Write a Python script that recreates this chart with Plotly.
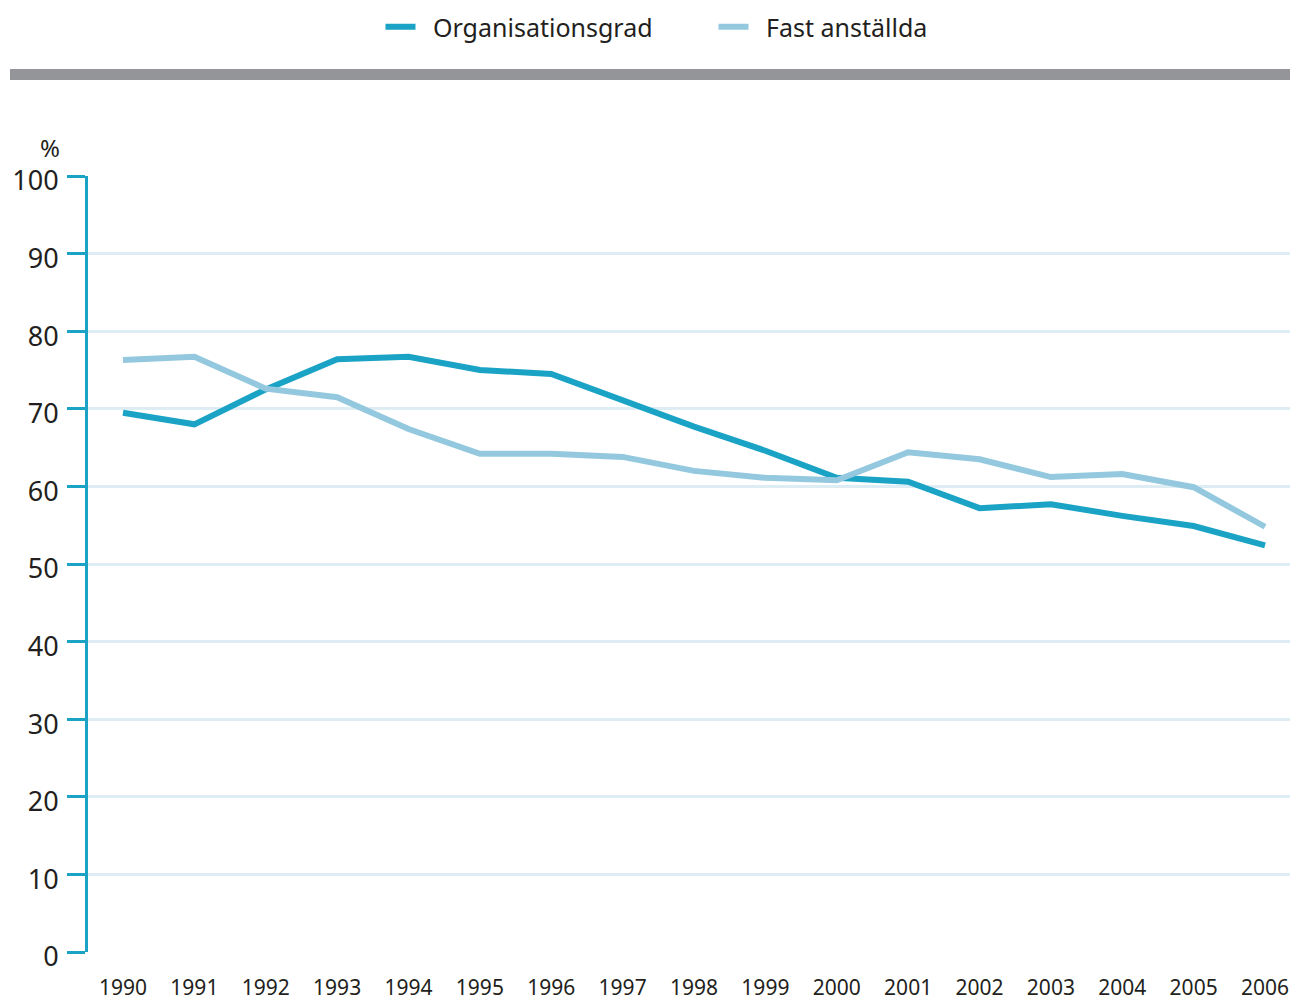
import plotly.graph_objects as go

years = list(range(1990, 2007))
organisationsgrad = [69.5, 68.0, 72.5, 76.4, 76.7, 75.0, 74.5, 71.0, 67.7, 64.6, 61.1, 60.6, 57.2, 57.7, 56.2, 54.9, 52.4]
fast_anstallda = [76.3, 76.7, 72.6, 71.5, 67.4, 64.2, 64.2, 63.8, 62.0, 61.1, 60.8, 64.4, 63.5, 61.2, 61.6, 59.9, 54.8]
y_ticks = list(range(0, 101, 10))

DARK = "#1ba3c6"
LIGHT = "#93c8de"
TEXT = "#231f20"
FONT = "Noto Sans"

W, H = 1282, 992
L, T, B = 80, 168, 48
PW, PH = W - L, H - T - B

fig = go.Figure()
fig.add_trace(go.Scatter(x=years, y=organisationsgrad, mode="lines", name="\u2002Organisationsgrad",
                         line=dict(color=DARK, width=6)))
fig.add_trace(go.Scatter(x=years, y=fast_anstallda, mode="lines", name="\u2002Fast anställda",
                         line=dict(color=LIGHT, width=6)))

fig.update_layout(
    width=W, height=H,
    margin=dict(l=L, r=0, t=T, b=B, autoexpand=False),
    paper_bgcolor="white", plot_bgcolor="white",
    font=dict(family=FONT, color=TEXT, size=22),
    showlegend=True,
    legend=dict(orientation="h", xref="container", yref="container", x=705.5 / W, y=1 - 19 / H,
                xanchor="center", yanchor="middle", font=dict(size=25, family=FONT, color=TEXT),
                entrywidth=288, entrywidthmode="pixels", tracegroupgap=0),
    xaxis=dict(range=[1989.5096, 2006.350], tickmode="array", tickvals=years,
               ticktext=[str(y) for y in years], showgrid=False, zeroline=False,
               showline=False, ticks="", ticklabelstandoff=21, ticklabeloverflow="allow",
               tickfont=dict(size=21, family=FONT, color=TEXT)),
    yaxis=dict(range=[0, 100], tickmode="array", tickvals=y_ticks,
               showgrid=True, gridcolor="#deedf4", gridwidth=3, zeroline=False,
               showline=True, linecolor=DARK, linewidth=3,
               ticks="outside", ticklen=18, tickwidth=3, tickcolor=DARK,
               ticklabelstandoff=3, ticklabelshift=5,
               tickfont=dict(size=27, family=FONT, color=TEXT)),
    shapes=[dict(type="rect", xref="paper", yref="paper",
                 x0=(2 - L) / PW, x1=1.0, y0=(H - B - 72) / PH, y1=(H - B - 61) / PH,
                 fillcolor="#939598", line=dict(width=0), layer="above")],
    annotations=[dict(text="%", xref="paper", yref="paper", x=(54 - L) / PW, y=(H - B - 140) / PH,
                      xanchor="right", yanchor="middle", showarrow=False,
                      font=dict(size=24, family=FONT, color=TEXT))],
)

fig.write_html("out.html")
